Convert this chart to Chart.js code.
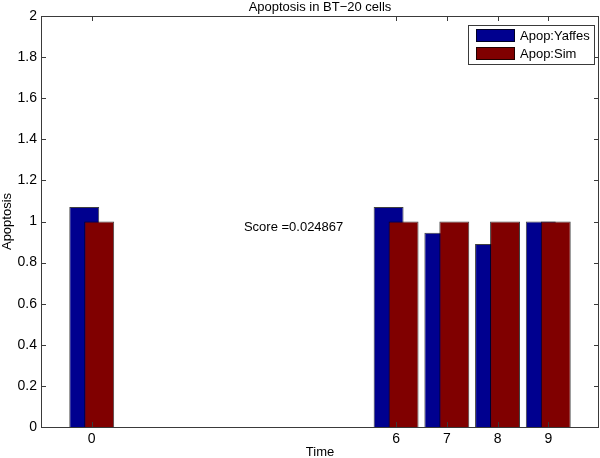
<!DOCTYPE html>
<html>
<head>
    <title>Apoptosis in BT-20 cells</title>
    <script src="https://cdn.jsdelivr.net/npm/chart.js"></script>
    <style>
        body { margin: 0; background: #fff; }
    </style>
</head>
<body>
    <canvas id="myChart" width="600" height="458"></canvas>

    <script>
        // values
        var times = [0, 6, 7, 8, 9];
        var apopYaffes = [1.07, 1.07, 0.945, 0.89, 1.0];
        var apopSim = [1.0, 1.0, 1.0, 1.0, 1.0];
        var xTicks = [0, 6, 7, 8, 9];
        var yTicks = [0, 0.2, 0.4, 0.6, 0.8, 1, 1.2, 1.4, 1.6, 1.8, 2];
        var titleText = 'Apoptosis in BT\u221220 cells';
        var scoreText = 'Score =0.024867';
        var scoreAt = { x: 3, y: 0.97 };

        var FONT = '"Liberation Sans", Arial, Helvetica, sans-serif';
        var AXIS = '#3a3a3a';
        var EDGE = 'rgba(0,0,0,0.75)';

        function points(vals) {
            return times.map(function(t, i) { return { x: t, y: vals[i] }; });
        }

        // chart.js paints the first dataset last; matlab paints the later bars on top
        var paintOrder = {
            id: 'paintOrder',
            beforeDatasetDraw: function(chart, args) {
                if (args.index === 1 && !chart.$late) return false;
            },
            afterDatasetsDraw: function(chart) {
                chart.$late = true;
                chart.getDatasetMeta(1).controller.draw();
                chart.$late = false;
            }
        };

        // box, inward ticks, title, score text and legend drawn like matlab does
        var matlabBits = {
            id: 'matlabBits',
            afterDatasetsDraw: function(chart) {
                var ctx = chart.ctx;
                var a = chart.chartArea;
                var xs = chart.scales.x, ys = chart.scales.y;
                ctx.save();
                ctx.strokeStyle = AXIS;
                ctx.lineWidth = 1;
                ctx.strokeRect(Math.round(a.left) + 0.5, Math.round(a.top) + 0.5,
                    Math.round(a.right - a.left) - 1, Math.round(a.bottom - a.top));
                ctx.beginPath();
                xTicks.forEach(function(v) {
                    var px = Math.round(xs.getPixelForValue(v)) + 0.5;
                    ctx.moveTo(px, a.bottom); ctx.lineTo(px, a.bottom - 5);
                    ctx.moveTo(px, a.top); ctx.lineTo(px, a.top + 5);
                });
                yTicks.forEach(function(v) {
                    var py = Math.round(ys.getPixelForValue(v)) + 0.5;
                    ctx.moveTo(a.left, py); ctx.lineTo(a.left + 5, py);
                    ctx.moveTo(a.right, py); ctx.lineTo(a.right - 5, py);
                });
                ctx.stroke();

                ctx.fillStyle = '#000';
                ctx.font = '13px ' + FONT;
                ctx.textAlign = 'center';
                ctx.textBaseline = 'middle';
                ctx.fillText(titleText, (a.left + a.right) / 2, 7);

                ctx.textAlign = 'left';
                ctx.fillText(scoreText, xs.getPixelForValue(scoreAt.x), ys.getPixelForValue(scoreAt.y));

                // legend
                var bw = 126, bh = 39;
                var bx = a.right - 5 - bw, by = a.top + 9;
                ctx.fillStyle = '#fff';
                ctx.fillRect(bx, by, bw, bh);
                ctx.strokeStyle = AXIS;
                ctx.strokeRect(Math.round(bx) + 0.5, Math.round(by) + 0.5, bw, bh);
                chart.data.datasets.forEach(function(ds, i) {
                    var sy = by + 4 + i * 18;
                    ctx.fillStyle = ds.backgroundColor;
                    ctx.fillRect(bx + 8, sy, 39, 13);
                    ctx.strokeStyle = EDGE;
                    ctx.strokeRect(bx + 8.5, sy + 0.5, 38, 12);
                    ctx.fillStyle = '#000';
                    ctx.fillText(ds.label, bx + 52, sy + 7);
                });
                ctx.restore();
            }
        };

        var ctx = document.getElementById('myChart').getContext('2d');
        var myChart = new Chart(ctx, {
            type: 'bar',
            data: {
                datasets: [{
                    label: 'Apop:Yaffes',
                    data: points(apopYaffes),
                    backgroundColor: '#00008f',
                    borderColor: EDGE,
                    borderWidth: 1
                }, {
                    label: 'Apop:Sim',
                    data: points(apopSim),
                    backgroundColor: '#800000',
                    borderColor: EDGE,
                    borderWidth: 1
                }]
            },
            options: {
                responsive: false,
                animation: false,
                categoryPercentage: 0.59,
                barPercentage: 2,
                layout: { padding: { top: 16, right: 1, left: 0, bottom: 0 } },
                plugins: {
                    legend: { display: false },
                    title: { display: false },
                    tooltip: { enabled: false }
                },
                scales: {
                    x: {
                        type: 'linear',
                        min: -1,
                        max: 10,
                        offset: false,
                        grid: { display: false, drawTicks: false },
                        border: { display: false },
                        afterBuildTicks: function(s) {
                            s.ticks = xTicks.map(function(v) { return { value: v }; });
                        },
                        afterFit: function(s) { s.height = 31; },
                        ticks: {
                            padding: 4,
                            color: '#000',
                            font: { family: FONT, size: 14 },
                            callback: function(v) { return String(v); }
                        },
                        title: {
                            display: true,
                            text: 'Time',
                            color: '#000',
                            padding: 0,
                            font: { family: FONT, size: 13, lineHeight: 0.8 }
                        }
                    },
                    y: {
                        min: 0,
                        max: 2,
                        grid: { display: false, drawTicks: false },
                        border: { display: false },
                        afterBuildTicks: function(s) {
                            s.ticks = yTicks.map(function(v) { return { value: v }; });
                        },
                        afterFit: function(s) { s.width = 41; },
                        ticks: {
                            padding: 4,
                            color: '#000',
                            font: { family: FONT, size: 14 },
                            callback: function(v) { return String(v); }
                        },
                        title: {
                            display: true,
                            text: 'Apoptosis',
                            color: '#000',
                            padding: 0,
                            font: { family: FONT, size: 13, lineHeight: 1.2 }
                        }
                    }
                }
            },
            plugins: [paintOrder, matlabBits]
        });
    </script>
</body>
</html>
